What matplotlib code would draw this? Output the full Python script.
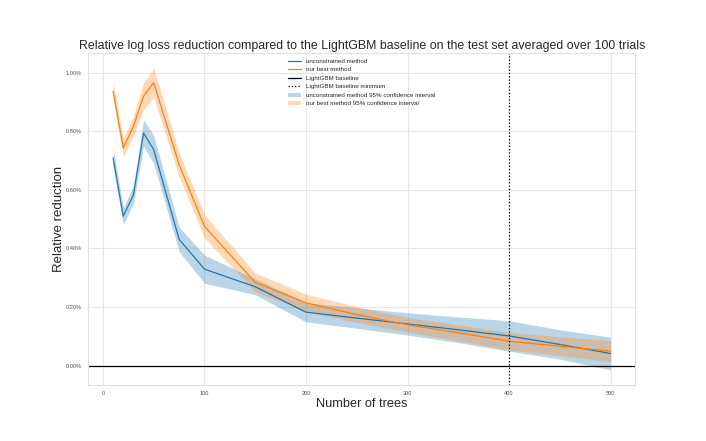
import numpy as np
import matplotlib
matplotlib.use('Agg')
import matplotlib.pyplot as plt
import matplotlib.ticker as mtick
import seaborn as sns

sns.set_style('whitegrid', {'grid.color': '.9', 'axes.edgecolor': '.88'})
plt.rcParams['font.family'] = ['Liberation Sans', 'DejaVu Sans']

# number of trees
n_trees = [10, 20, 30, 40, 50, 75, 100, 150, 200, 250, 300, 350, 400, 450, 500]

# relative reduction in percent
unconstrained = [0.709, 0.510, 0.583, 0.794, 0.737, 0.431, 0.329, 0.269, 0.182, 0.162, 0.142, 0.122, 0.101, 0.072, 0.041]
unconstrained_hw = [0.032, 0.029, 0.030, 0.045, 0.048, 0.042, 0.048, 0.027, 0.033, 0.035, 0.038, 0.044, 0.052, 0.050, 0.056]
best = [0.937, 0.743, 0.817, 0.920, 0.966, 0.686, 0.475, 0.284, 0.214, 0.174, 0.139, 0.112, 0.083, 0.066, 0.049]
best_hw = [0.032, 0.031, 0.035, 0.046, 0.050, 0.040, 0.040, 0.032, 0.030, 0.027, 0.025, 0.027, 0.030, 0.032, 0.036]
baseline_min_trees = 400

x = np.array(n_trees)
u = np.array(unconstrained) / 100
uh = np.array(unconstrained_hw) / 100
b = np.array(best) / 100
bh = np.array(best_hw) / 100

fig, ax = plt.subplots(figsize=(7.06, 4.41), dpi=100)
fig.subplots_adjust(left=0.125, right=0.9, bottom=0.127, top=0.88)

ax.plot(x, u, color='#1f77b4', lw=0.9, label='unconstrained method')
ax.plot(x, b, color='#ff7f0e', lw=0.9, label='our best method')
ax.axhline(0, color='black', lw=0.9, label='LightGBM baseline')
ax.axvline(baseline_min_trees, color='black', ls=':', lw=0.9, label='LightGBM baseline minimum')
ax.fill_between(x, u - uh, u + uh, color='#1f77b4', alpha=0.3, lw=0,
                label='unconstrained method 95% confidence interval')
ax.fill_between(x, b - bh, b + bh, color='#ff7f0e', alpha=0.3, lw=0,
                label='our best method 95% confidence interval')

ax.yaxis.set_major_formatter(mtick.PercentFormatter(1.0, decimals=2))
ax.tick_params(labelsize=4.1, colors='.3', pad=1)
ax.set_xlabel('Number of trees', fontsize=9.2, labelpad=1)
ax.set_ylabel('Relative reduction', fontsize=9.5)
ax.yaxis.set_label_coords(-0.042, 0.5)
ax.set_title('Relative log loss reduction compared to the LightGBM baseline on the test set averaged over 100 trials',
             fontsize=8.9, pad=3)
ax.legend(loc='upper center', fontsize=4.5, frameon=False, handlelength=2.0)

fig.savefig('out.png', dpi=100)
